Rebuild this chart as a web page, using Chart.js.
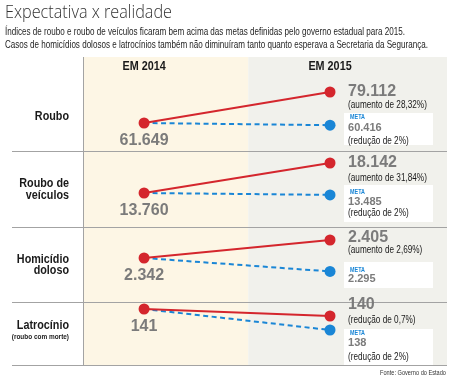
<!DOCTYPE html>
<html><head><meta charset="utf-8">
<script src="https://cdn.jsdelivr.net/npm/chart.js@4/dist/chart.umd.min.js"></script>
<style>
html,body{margin:0;padding:0;background:#fff;}
#wrap{position:relative;width:455px;height:380px;overflow:hidden;}
canvas{position:absolute;left:0;top:0;}
.t{position:absolute;white-space:nowrap;transform-origin:0 0;}
</style></head><body>
<div id="wrap">
<canvas id="c" width="455" height="380"></canvas>
<div class="t" data-w="167" style="left:5px;top:0px;font:300 19px/22px 'Open Sans',sans-serif;color:#333;">Expectativa x realidade</div>
<div class="t" data-w="400" style="left:5px;top:25px;font:400 11px/12px 'Liberation Sans',sans-serif;color:#1e1e1e;">Índices de roubo e roubo de veículos ficaram bem acima das metas definidas pelo governo estadual para 2015.</div>
<div class="t" data-w="423" style="left:5px;top:38px;font:400 11px/12px 'Liberation Sans',sans-serif;color:#1e1e1e;">Casos de homicídios dolosos e latrocínios também não diminuíram tanto quanto esperava a Secretaria da Segurança.</div>
<div class="t" data-w="66" data-right="446" style="top:368px;font:400 7px/9px 'Liberation Sans',sans-serif;color:#333;">Fonte: Governo do Estado</div>
</div>
<script>
// ---------- DATA ----------
const categories = [['Roubo'], ['Roubo de', 'veículos'], ['Homicídio', 'doloso'], ['Latrocínio']];
const categoryNotes = ['', '', '', '(roubo com morte)'];
const years = ['EM 2014', 'EM 2015'];
const yearValues = [2014, 2015];
const actual2014 = [61649, 13760, 2342, 141];
const actual2015 = [79112, 18142, 2405, 140];
const meta2015 = [60416, 13485, 2295, 138];
const changeLabels = ['(aumento de 28,32%)', '(aumento de 31,84%)', '(aumento de 2,69%)', '(redução de 0,7%)'];
const metaChangeLabels = ['(redução de 2%)', '(redução de 2%)', '', '(redução de 2%)'];
const metaTag = 'META';

// ---------- STYLE / LAYOUT ----------
const RED = '#d4262d', BLUE = '#1a86d6', GRAY = '#7b7b7b', INK = '#1a1a1a';
const FAM = "'Liberation Sans', Arial, sans-serif";
const rowWeights = [95, 76, 75, 63];
const rowRanges = [[45313, 98828], [8648, 19749], [2184.5, 2447], [132.857, 141.857]];
const labelY = [[59], [31, 43], [31, 42], [22]];
const noteY = [0, 0, 0, 34];
const valOff = [0, 0, -2, -11];
const chgOff = [13, 15, 10, 4];
const boxTop = [56, 33, 34, 26], boxBot = [88, 70, 60, 62];
const metaTagY = [60, 40, 42, 30], metaValY = [71, 50, 51, 40], metaChgY = [84, 61, 0, 54];

function fmt(v) { return String(v).replace(/\B(?=(\d{3})+(?!\d))/g, '.'); }
function txt(ctx, s, x, y, o) {
  ctx.save();
  ctx.font = (o.weight || 'normal') + ' ' + o.size + 'px ' + FAM;
  ctx.fillStyle = o.color;
  ctx.textBaseline = 'middle';
  ctx.textAlign = 'left';
  const sx = o.sx || 1;
  const w = ctx.measureText(s).width * sx;
  const a = o.align || 'left';
  const x0 = a === 'left' ? x : a === 'right' ? x - w : x - w / 2;
  ctx.translate(x0, y);
  ctx.scale(sx, 1);
  ctx.fillText(s, 0, 0);
  ctx.restore();
}

// fit HTML text lines
document.querySelectorAll('.t').forEach(el => {
  const target = +el.dataset.w;
  const w = el.getBoundingClientRect().width;
  el.style.transform = 'scaleX(' + (target / w) + ')';
  if (el.dataset.right) el.style.left = (+el.dataset.right - target) + 'px';
});

const datasets = [];
const scales = {
  x: { type: 'linear', display: false, min: 2013.677, max: 2015.629 }
};
categories.forEach((c, i) => {
  const id = 'y' + i;
  scales[id] = {
    type: 'linear', display: false, position: 'left', stack: 'rows',
    stackWeight: rowWeights[i], weight: categories.length - i,
    min: rowRanges[i][0], max: rowRanges[i][1]
  };
  datasets.push({
    label: c.join(' ') + ' ' + years[1],
    data: [{ x: yearValues[0], y: actual2014[i] }, { x: yearValues[1], y: actual2015[i] }],
    yAxisID: id, borderColor: RED, backgroundColor: RED, borderWidth: 2,
    pointRadius: 5.5, pointBorderWidth: 0, pointHoverRadius: 5.5, order: 0, clip: false
  });
  datasets.push({
    label: c.join(' ') + ' meta',
    data: [{ x: yearValues[0], y: actual2014[i] }, { x: yearValues[1], y: meta2015[i] }],
    yAxisID: id, borderColor: BLUE, backgroundColor: BLUE, borderWidth: 2, borderDash: [5, 3.5],
    pointRadius: [0, 5.5], pointBorderWidth: 0, pointHoverRadius: [0, 5.5], order: 1, clip: false
  });
});

const bgPlugin = {
  id: 'bg',
  beforeDatasetsDraw(chart) {
    const { ctx, chartArea: a, scales: s } = chart;
    const xs = s.x;
    const split = xs.getPixelForValue(2014.56);
    ctx.save();
    ctx.fillStyle = '#fdf6e5';
    ctx.fillRect(a.left, a.top, split - a.left, a.bottom - a.top);
    ctx.fillStyle = '#f1f1ec';
    ctx.fillRect(split, a.top, a.right - split, a.bottom - a.top);
    ctx.strokeStyle = '#a3a3a3';
    ctx.lineWidth = 1;
    ctx.beginPath();
    for (let i = 0; i < categories.length; i++) {
      const y = Math.round(s['y' + i].bottom) - 0.5;
      ctx.moveTo(12, y); ctx.lineTo(a.right, y);
    }
    ctx.moveTo(a.left - 0.5, a.top); ctx.lineTo(a.left - 0.5, a.bottom);
    ctx.stroke();
    ctx.restore();
    years.forEach((yl, k) => {
      txt(ctx, yl, xs.getPixelForValue(yearValues[k]), a.top + 10, { size: 12, weight: 'bold', color: INK, align: 'center', sx: 0.9 });
    });
    categories.forEach((lines, i) => {
      const top = s['y' + i].top;
      lines.forEach((l, j) => txt(ctx, l, 69, top + labelY[i][j], { size: 13, weight: 'bold', color: INK, align: 'right', sx: 0.83 }));
      if (categoryNotes[i]) txt(ctx, categoryNotes[i], 69, top + noteY[i], { size: 7, weight: 'bold', color: INK, align: 'right', sx: 0.92 });
    });
  }
};

const labelPlugin = {
  id: 'labels',
  afterDatasetsDraw(chart) {
    const { ctx, scales: s } = chart;
    const x14 = s.x.getPixelForValue(yearValues[0]);
    const x15 = s.x.getPixelForValue(yearValues[1]);
    categories.forEach((c, i) => {
      const ys = s['y' + i];
      const top = ys.top;
      const p14 = ys.getPixelForValue(actual2014[i]);
      const p15 = ys.getPixelForValue(actual2015[i]);
      txt(ctx, fmt(actual2014[i]), x14, p14 + 17.5, { size: 16, weight: 'bold', color: GRAY, align: 'center' });
      txt(ctx, fmt(actual2015[i]), x15 + 18, p15 + valOff[i], { size: 16, weight: 'bold', color: GRAY });
      txt(ctx, changeLabels[i], x15 + 18, p15 + chgOff[i], { size: 10, color: INK, sx: 0.82 });
      ctx.save();
      ctx.fillStyle = '#ffffff';
      ctx.fillRect(x15 + 14, top + boxTop[i], 89, boxBot[i] - boxTop[i]);
      ctx.restore();
      txt(ctx, metaTag, x15 + 20, top + metaTagY[i], { size: 7.5, weight: 'bold', color: BLUE, sx: 0.72 });
      txt(ctx, fmt(meta2015[i]), x15 + 18, top + metaValY[i], { size: 11, weight: 'bold', color: GRAY });
      if (metaChangeLabels[i]) txt(ctx, metaChangeLabels[i], x15 + 18, top + metaChgY[i], { size: 10, color: INK, sx: 0.82 });
    });
  }
};

new Chart(document.getElementById('c'), {
  type: 'line',
  data: { datasets },
  options: {
    responsive: false, animation: false, devicePixelRatio: 1,
    layout: { padding: { left: 84, top: 57, right: 8, bottom: 14 } },
    scales,
    plugins: { legend: { display: false }, title: { display: false }, tooltip: { enabled: false } },
    elements: { line: { tension: 0 } }
  },
  plugins: [bgPlugin, labelPlugin]
});
</script>
</body></html>
